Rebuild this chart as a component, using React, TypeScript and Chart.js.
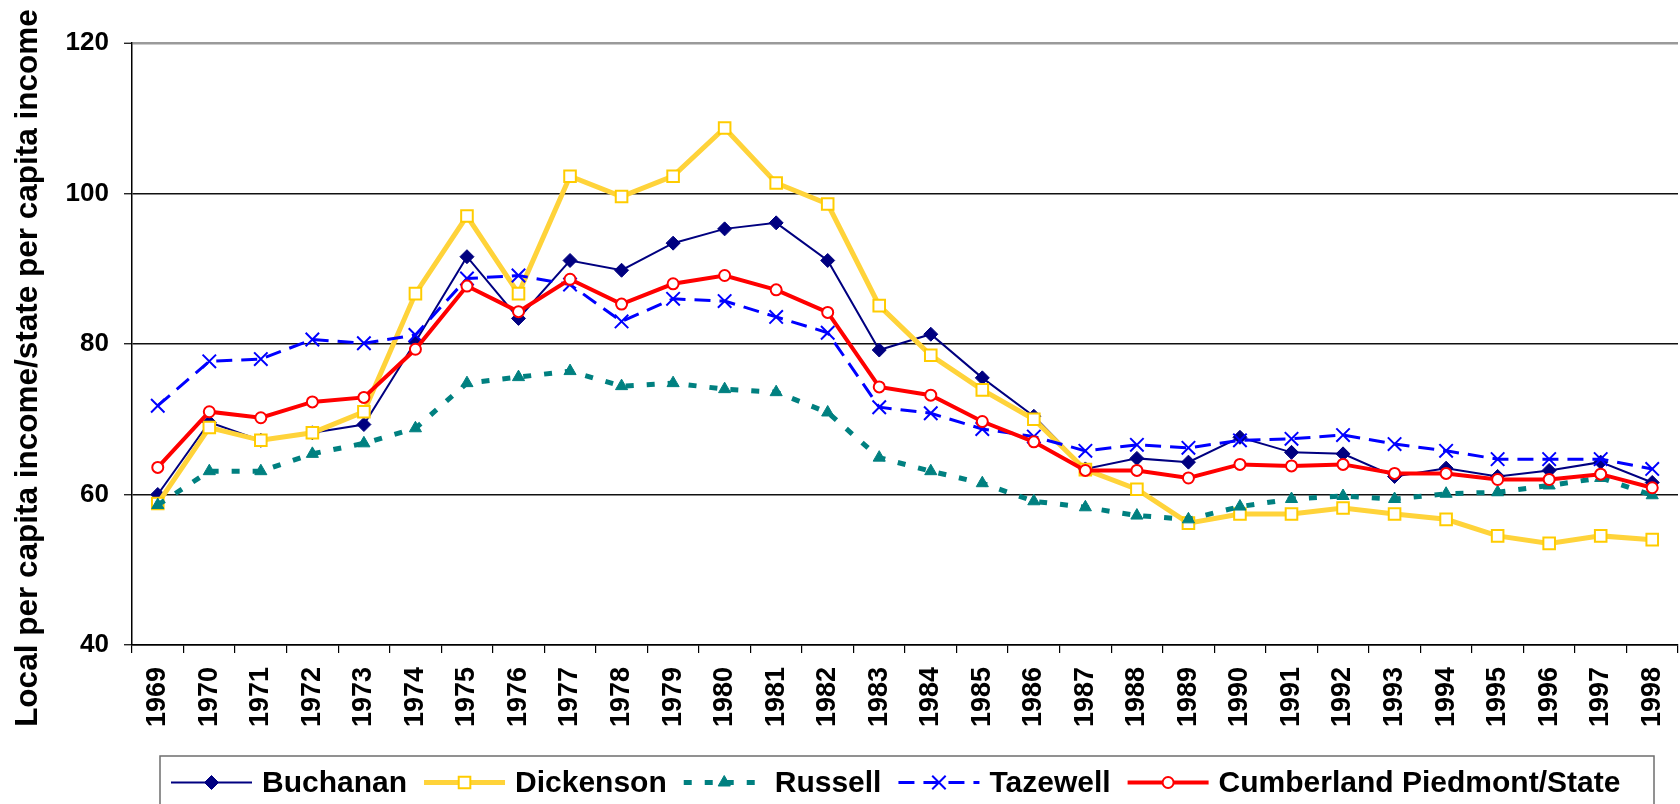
import React, { useEffect, useRef } from 'react';
import { Chart, registerables } from 'chart.js';
import { drawPoint } from 'chart.js/helpers';

Chart.register(...registerables);

const years = ['1969','1970','1971','1972','1973','1974','1975','1976','1977','1978','1979','1980','1981','1982','1983','1984','1985','1986','1987','1988','1989','1990','1991','1992','1993','1994','1995','1996','1997','1998'];

const buchanan = [60.0, 69.6, 67.2, 68.2, 69.3, 80.3, 91.6, 83.4, 91.1, 89.8, 93.4, 95.3, 96.1, 91.1, 79.2, 81.3, 75.5, 70.4, 63.4, 64.8, 64.3, 67.6, 65.6, 65.4, 62.4, 63.5, 62.4, 63.2, 64.3, 61.6];
const dickenson = [58.8, 68.9, 67.2, 68.2, 71.0, 86.7, 97.0, 86.7, 102.3, 99.6, 102.3, 108.7, 101.4, 98.6, 85.1, 78.5, 73.9, 70.0, 63.3, 60.7, 56.2, 57.4, 57.4, 58.2, 57.4, 56.7, 54.5, 53.5, 54.5, 54.0];
const russell = [58.6, 63.1, 63.1, 65.4, 66.8, 68.8, 74.8, 75.6, 76.4, 74.4, 74.8, 74.0, 73.6, 70.9, 64.9, 63.1, 61.5, 59.1, 58.3, 57.2, 56.7, 58.4, 59.4, 59.8, 59.4, 60.1, 60.3, 61.2, 62.2, 59.9];
const tazewell = [71.8, 77.7, 78.0, 80.6, 80.1, 81.2, 88.7, 89.1, 87.9, 83.0, 86.0, 85.7, 83.6, 81.5, 71.6, 70.8, 68.7, 67.7, 65.8, 66.6, 66.2, 67.2, 67.4, 67.9, 66.7, 65.8, 64.7, 64.7, 64.7, 63.4];
const cumberland = [63.6, 71.0, 70.2, 72.3, 72.9, 79.3, 87.7, 84.3, 88.6, 85.3, 88.0, 89.1, 87.2, 84.2, 74.3, 73.2, 69.7, 67.0, 63.2, 63.2, 62.2, 64.0, 63.8, 64.0, 62.8, 62.8, 62.0, 62.0, 62.7, 60.9];

const yTicks = [40, 60, 80, 100, 120];
const yTitle = 'Local per capita income/state per capita income';
const FONT = "'Liberation Sans', Arial, sans-serif";

const overlayPlugin = {
  id: 'overlay',
  afterDraw(chart: any) {
    const ctx = chart.ctx as CanvasRenderingContext2D;
    // y-axis title
    ctx.save();
    ctx.translate(28.5, 368);
    ctx.rotate(-Math.PI / 2);
    ctx.font = `bold 31.5px ${FONT}`;
    ctx.fillStyle = '#000';
    ctx.textAlign = 'center';
    ctx.textBaseline = 'middle';
    ctx.fillText(yTitle, 0, 0);
    ctx.restore();

    // legend box
    const boxL = 160, boxT = 756, boxR = 1654, boxB = 812;
    ctx.save();
    ctx.strokeStyle = '#6e6e6e';
    ctx.lineWidth = 1.5;
    ctx.strokeRect(boxL, boxT, boxR - boxL, boxB - boxT);
    ctx.restore();

    const cy = 782.5;
    let x = boxL + 11;
    const lineLen = 81;
    ctx.save();
    ctx.font = `bold 30px ${FONT}`;
    chart.data.datasets.forEach((ds: any) => {
      ctx.save();
      ctx.strokeStyle = ds.borderColor;
      ctx.lineWidth = ds.borderWidth;
      ctx.setLineDash(ds.borderDash || []);
      ctx.lineCap = 'butt';
      ctx.beginPath();
      ctx.moveTo(x, cy);
      ctx.lineTo(x + lineLen, cy);
      ctx.stroke();
      ctx.setLineDash([]);
      ctx.fillStyle = ds.pointBackgroundColor;
      ctx.strokeStyle = ds.pointBorderColor;
      ctx.lineWidth = ds.pointBorderWidth;
      drawPoint(ctx, { pointStyle: ds.pointStyle, radius: ds.pointRadius, rotation: 0, borderWidth: ds.pointBorderWidth } as any, x + lineLen / 2, cy);
      ctx.restore();
      x += lineLen + 10;
      ctx.fillStyle = '#000';
      ctx.textAlign = 'left';
      ctx.textBaseline = 'middle';
      ctx.fillText(ds.label, x, cy + 1);
      x += ctx.measureText(ds.label).width + 17;
    });
    ctx.restore();
  },
};

export default function App() {
  const ref = useRef<HTMLCanvasElement>(null);
  useEffect(() => {
    document.body.style.margin = '0';
    const canvas = ref.current!;
    const chart = new Chart(canvas, {
      type: 'line',
      data: {
        labels: years,
        datasets: [
          {
            label: 'Buchanan', data: buchanan, order: 4,
            borderColor: '#000080', borderWidth: 2, borderDash: [],
            pointStyle: 'rectRot', pointRadius: 7, pointBackgroundColor: '#000080', pointBorderColor: '#000080', pointBorderWidth: 1,
          },
          {
            label: 'Dickenson', data: dickenson, order: 3,
            borderColor: '#FFD33A', borderWidth: 5, borderDash: [],
            pointStyle: 'rect', pointRadius: 8.2, pointBackgroundColor: '#ffffff', pointBorderColor: '#FFCC00', pointBorderWidth: 2,
          },
          {
            label: 'Russell', data: russell, order: 2,
            borderColor: '#008080', borderWidth: 5, borderDash: [8, 13],
            pointStyle: 'triangle', pointRadius: 7, pointBackgroundColor: '#008080', pointBorderColor: '#008080', pointBorderWidth: 1,
          },
          {
            label: 'Tazewell', data: tazewell, order: 1,
            borderColor: '#0000FF', borderWidth: 3, borderDash: [16, 9],
            pointStyle: 'crossRot', pointRadius: 9.5, pointBackgroundColor: '#0000FF', pointBorderColor: '#0000FF', pointBorderWidth: 2,
          },
          {
            label: 'Cumberland Piedmont/State', data: cumberland, order: 0,
            borderColor: '#FF0000', borderWidth: 4, borderDash: [],
            pointStyle: 'circle', pointRadius: 5.5, pointBackgroundColor: '#ffffff', pointBorderColor: '#FF0000', pointBorderWidth: 2,
          },
        ],
      },
      options: {
        responsive: false,
        animation: false,
        devicePixelRatio: 1,
        layout: { autoPadding: false, padding: { top: 43, right: 2, left: 0, bottom: 0 } },
        elements: { line: { tension: 0, fill: false } },
        plugins: { legend: { display: false }, title: { display: false }, tooltip: { enabled: false } },
        scales: {
          x: {
            type: 'category',
            offset: true,
            grid: { offset: true, drawOnChartArea: false, drawTicks: true, tickLength: 8, color: '#000', lineWidth: 1.2 },
            border: { color: '#000', width: 1.5 },
            ticks: {
              autoSkip: false, minRotation: 90, maxRotation: 90, padding: 14,
              color: '#000', font: { family: FONT, size: 27, weight: 'bold' },
            },
            afterFit: (s: any) => { s.height = 159; s.paddingLeft = 0; s.paddingRight = 0; },
          },
          y: {
            min: 40, max: 120,
            afterBuildTicks: (s: any) => { s.ticks = yTicks.map((v) => ({ value: v })); },
            grid: {
              color: (c: any) => (c.tick && c.tick.value === 120 ? '#9a9a9a' : '#111'),
              lineWidth: (c: any) => (c.tick && c.tick.value === 120 ? 2.5 : 1.5),
              tickColor: '#000', tickWidth: 1.2, tickLength: 8,
            },
            border: { color: '#000', width: 1.5 },
            ticks: { padding: 15, color: '#000', font: { family: FONT, size: 26, weight: 'bold' } },
            afterFit: (s: any) => { s.width = 132; s.paddingTop = 0; s.paddingBottom = 0; },
          },
        },
      },
      plugins: [overlayPlugin],
    } as any);
    return () => chart.destroy();
  }, []);
  return (
    <div style={{ width: 1680, height: 804 }}>
      <canvas ref={ref} width={1680} height={804} style={{ display: 'block', width: 1680, height: 804 }} />
    </div>
  );
}
